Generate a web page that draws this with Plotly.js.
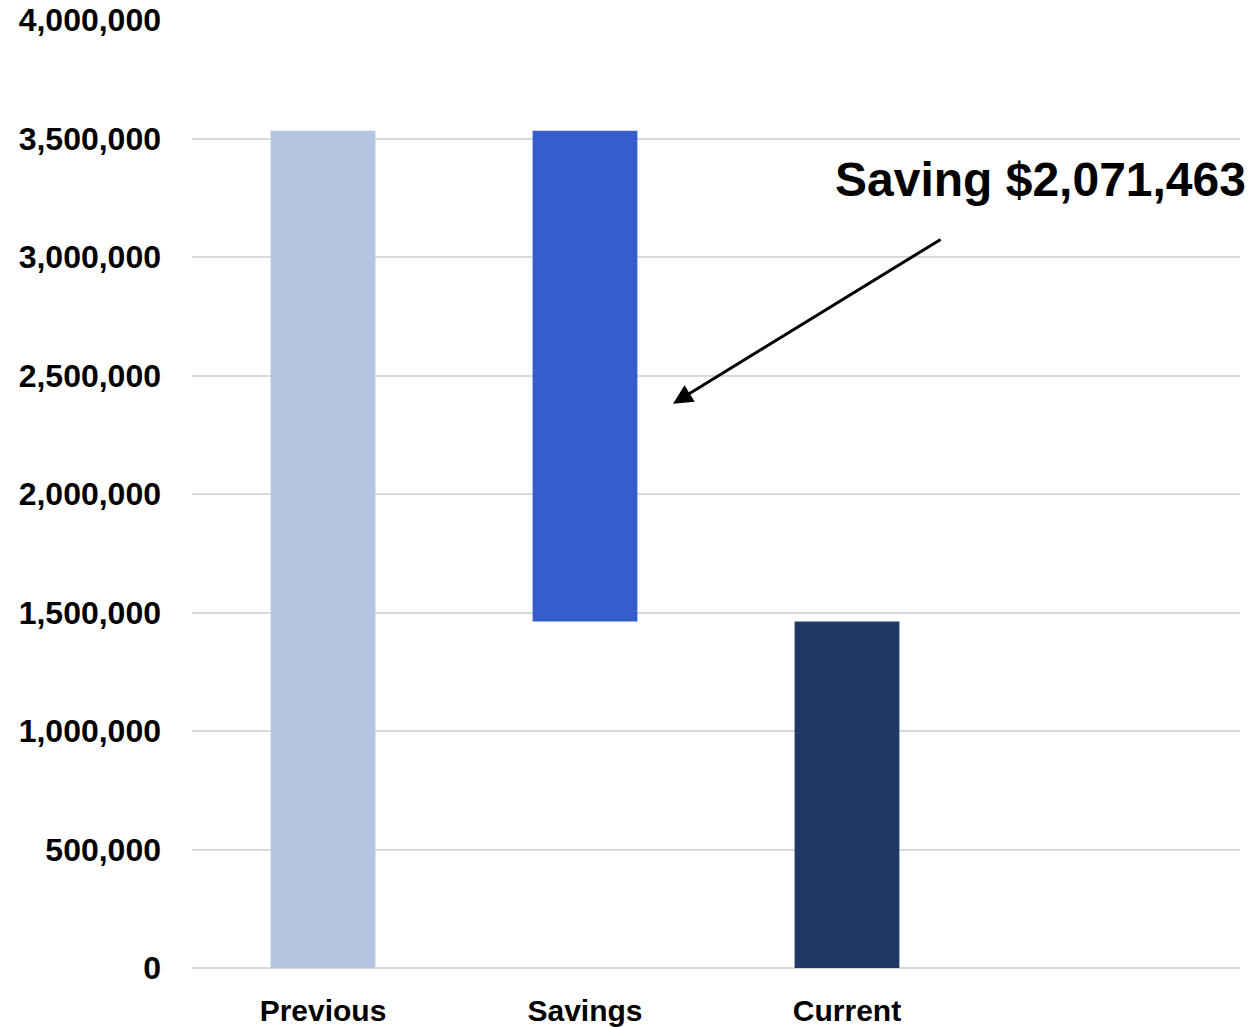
<!DOCTYPE html>
<html>
<head>
<meta charset="utf-8">
<script src="https://cdn.plot.ly/plotly-3.0.1.min.js"></script>
<style>html,body{margin:0;padding:0;background:#fff;}#chart{width:1259px;height:1027px;}</style>
</head>
<body>
<div id="chart"></div>
<script>
var categories = ['Previous', 'Savings', 'Current', ' '];
var barValues = [3533000, 2071463, 1461537];
var barBases = [0, 1461537, 0];
var barColors = ['#b4c6df', '#355dcb', '#203864'];
var annotationText = 'Saving $2,071,463';

var trace = {
  type: 'bar',
  x: categories.slice(0, 3),
  y: barValues,
  base: barBases,
  width: 0.4,
  marker: {color: barColors, line: {width: 0}},
  hoverinfo: 'none'
};

var layout = {
  width: 1259,
  height: 1027,
  margin: {l: 192, r: 19, t: 20, b: 59, pad: 0},
  paper_bgcolor: '#ffffff',
  plot_bgcolor: '#ffffff',
  showlegend: false,
  font: {family: 'Liberation Sans, Arial, sans-serif', color: '#000000'},
  xaxis: {
    type: 'category',
    categoryorder: 'array',
    categoryarray: categories,
    range: [-0.5, 3.5],
    showgrid: false,
    showline: false,
    zeroline: false,
    ticks: '',
    tickfont: {family: 'Liberation Sans, Arial, sans-serif', size: 30, color: '#000000', weight: 'bold'},
    ticklabelstandoff: 22
  },
  yaxis: {
    range: [0, 4000000],
    dtick: 500000,
    tick0: 0,
    tickformat: ',d',
    showgrid: true,
    gridcolor: '#d9d9d9',
    gridwidth: 2,
    zeroline: true,
    zerolinecolor: '#d9d9d9',
    zerolinewidth: 2,
    showline: false,
    ticks: '',
    ticklabelstandoff: 30,
    tickfont: {family: 'Liberation Sans, Arial, sans-serif', size: 32, color: '#000000', weight: 'bold'}
  },
  annotations: [
    {
      xref: 'x', yref: 'y',
      x: 2.74, y: 3327000,
      text: '<b>' + annotationText + '</b>',
      showarrow: false,
      font: {family: 'Liberation Sans, Arial, sans-serif', size: 48, color: '#000000'},
      xanchor: 'center', yanchor: 'middle'
    },
    {
      xref: 'x', yref: 'y', axref: 'x', ayref: 'y',
      x: 1.336, y: 2381000,
      ax: 2.363, ay: 3078000,
      text: '',
      showarrow: true,
      arrowhead: 2,
      arrowsize: 1.3,
      arrowwidth: 3,
      arrowcolor: '#000000'
    }
  ]
};

Plotly.newPlot('chart', [trace], layout, {staticPlot: true, displayModeBar: false});
</script>
</body>
</html>
